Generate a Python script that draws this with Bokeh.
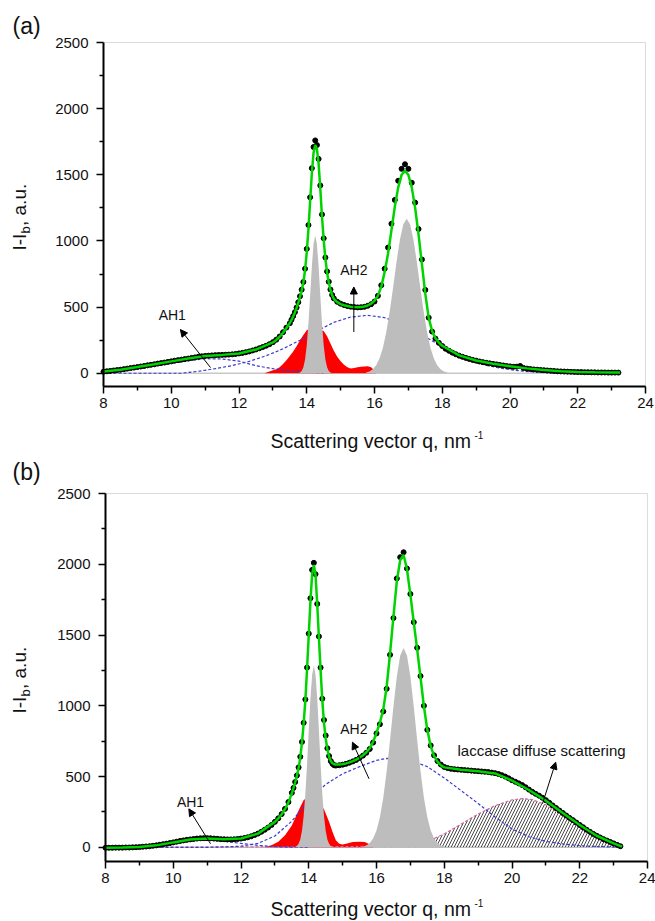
import numpy as np
from bokeh.plotting import figure
from bokeh.layouts import column
from bokeh.models import Range1d, Label, Arrow, NormalHead, FixedTicker, BoxAnnotation
from bokeh.embed import file_html
from bokeh.resources import INLINE

FONT = "Liberation Sans"

# ---------------- axis ticks ----------------
x_ticks = [8, 10, 12, 14, 16, 18, 20, 22, 24]
x_minor = [9, 11, 13, 15, 17, 19, 21, 23]
y_ticks = [0, 500, 1000, 1500, 2000, 2500]
y_minor = [250, 750, 1250, 1750, 2250]
X_LIM = (8, 24)
Y_LIM = (-100, 2500)


def grid(*segs):
    return np.round(np.concatenate([np.arange(a, b + 1e-6, s) for a, b, s in segs]), 2)


# sampling positions of the measured profiles and of the fitted envelopes
q_exp = grid((8.0, 13.5, 0.1), (13.55, 14.8, 0.05), (14.9, 23.2, 0.1))
q_fit = np.concatenate([grid((8.0, 13.0, 0.5), (13.1, 13.5, 0.1), (13.55, 14.8, 0.05),
                             (14.9, 18.0, 0.1), (18.5, 23.0, 0.5)), [23.25]])

# ---------------- panel (a) ----------------
i_exp_a = [
    12, 15, 18, 21, 24, 27, 31, 35, 39, 43,
    47, 51, 55, 60, 64, 68, 73, 77, 81, 86,
    90, 95, 99, 103, 107, 111, 116, 120, 125, 128,
    131, 133, 135, 137, 138, 139, 140, 141, 143, 146,
    150, 154, 159, 165, 172, 180, 189, 198, 208, 220,
    235, 254, 278, 310, 345, 378,
    405, 432, 462, 497, 537, 582, 632, 690, 790, 940,
    1120, 1330, 1550, 1710, 1760, 1725, 1620, 1420, 1200, 1020,
    875, 770, 692, 633, 592, 566,
    540, 526, 516, 508, 503, 500, 498, 499, 502, 510,
    522, 542, 585, 665, 790, 950, 1130, 1310, 1455, 1545,
    1580, 1545, 1440, 1290, 1090, 860, 630, 420, 315, 262,
    230, 206, 185, 170, 156, 144, 133, 124, 116, 108,
    101, 95, 89, 84, 79, 75, 71, 67, 63, 59,
    55, 52, 49, 50, 55, 40, 35, 32, 29, 27,
    25, 23, 21, 19, 17, 15, 14, 13, 12, 11,
    10, 9, 9, 8, 8, 7, 7, 6, 6, 6,
    5, 5, 5, 5,
]
i_fit_a = [
    13, 27, 47, 68, 90, 111, 130, 139, 149, 179, 233,
    252, 276, 306, 342, 380,
    403, 430, 460, 494, 533, 577, 626, 686, 780, 915,
    1090, 1300, 1510, 1665, 1725, 1695, 1585, 1395, 1185, 1008,
    866, 762, 686, 630, 590, 563,
    537, 523, 514, 508, 503, 500, 499, 500, 504, 512,
    526, 548, 585, 655, 765, 905, 1080, 1260, 1405, 1500,
    1530, 1500, 1405, 1250, 1050, 825, 600, 420, 320, 265,
    232, 208,
    135, 97, 72, 53, 37, 25, 16, 10, 7, 5,
    5,
]
# crystalline reflections (grey)
q_pk1_a = [13.75, 13.8, 13.85, 13.9, 13.95, 14.0, 14.05, 14.1, 14.15, 14.2, 14.25,
           14.3, 14.35, 14.4, 14.45, 14.5, 14.55, 14.6, 14.65, 14.7, 14.75]
i_pk1_a = [0, 6, 18, 46, 105, 212, 376, 587, 807, 977, 1042,
           977, 807, 587, 376, 212, 105, 46, 18, 6, 0]
q_pk2_a = [15.75, 15.85, 15.95, 16.05, 16.15, 16.25, 16.35, 16.45, 16.55, 16.65, 16.75, 16.85,
           16.95, 17.05, 17.15, 17.25, 17.35, 17.45, 17.55, 17.65, 17.75, 17.85, 17.95, 18.05, 18.15]
i_pk2_a = [6, 14, 30, 61, 113, 195, 314, 469, 651, 841, 1009, 1126,
           1168, 1126, 1009, 841, 651, 469, 314, 195, 113, 61, 30, 14, 6]
# red component
q_red_a = [12.75, 12.9, 13.0, 13.1, 13.2, 13.3, 13.4, 13.5, 13.6, 13.7, 13.8, 13.9, 14.0,
           14.1, 14.2, 14.3, 14.4, 14.5, 14.6, 14.7, 14.8, 14.9, 15.0, 15.1, 15.2, 15.3,
           15.4, 15.5, 15.6, 15.7, 15.8, 15.9, 16.0, 16.05]
i_red_a = [0, 14, 22, 30, 45, 70, 98, 130, 165, 205, 249, 290, 325,
           340, 340, 330, 325, 320, 280, 225, 170, 125, 90, 65, 45, 36,
           40, 46, 50, 52, 53, 45, 20, 0]
# amorphous halos (dashed)
q_ah1_a = [8.0, 8.5, 9.0, 9.5, 10.0, 10.5, 11.0, 11.5, 12.0, 12.5, 13.0, 13.5, 14.0, 14.5]
i_ah1_a = [10, 22, 38, 56, 76, 95, 110, 108, 92, 57, 35, 18, 8, 3]
q_ah2_a = [8.0, 10.3, 10.8, 11.3, 11.8, 12.3, 12.8, 13.3, 13.8, 14.3, 14.8, 15.3, 15.8,
           16.3, 16.8, 17.3, 17.8, 18.3, 18.8, 19.3, 19.8, 20.3, 20.8, 21.3, 21.8]
i_ah2_a = [0, 0, 15, 35, 58, 90, 132, 185, 250, 320, 385, 425, 438,
           420, 375, 305, 230, 145, 95, 60, 35, 18, 8, 3, 0]

# ---------------- panel (b) ----------------
i_exp_b = [
    -3, -3, -3, -2, -2, -2, -1, -1, 0, 1,
    2, 4, 6, 8, 11, 14, 18, 22, 26, 30,
    35, 40, 45, 49, 53, 56, 59, 62, 64, 65,
    65, 64, 62, 60, 58, 57, 56, 56, 57, 59,
    62, 66, 71, 78, 87, 97, 110, 124, 140, 158,
    180, 205, 235, 272, 320, 385,
    420, 462, 508, 565, 640, 745, 880, 1045, 1270, 1510,
    1760, 1960, 2010, 1930, 1720, 1490, 1270, 1050, 900, 790,
    700, 645, 610, 590, 580, 578,
    580, 584, 590, 598, 607, 618, 632, 648, 668, 695,
    740, 805, 870, 960, 1120, 1360, 1620, 1900, 2050, 2085,
    1970, 1790, 1591, 1410, 1210, 1000, 830, 720, 650, 610,
    585, 568, 560, 555, 552, 550, 548, 546, 544, 542,
    540, 538, 536, 534, 532, 528, 524, 518, 510, 500,
    488, 474, 463, 452, 440, 425, 408, 392, 378, 365,
    350, 333, 315, 296, 278, 260, 243, 225, 208, 192,
    175, 158, 142, 125, 110, 95, 82, 70, 58, 48,
    38, 28, 18, 8,
]
i_fit_b = [
    -2, -1, 3, 14, 35, 55, 63, 57, 62, 97, 180,
    204, 234, 271, 318, 380,
    420, 460, 505, 560, 635, 740, 875, 1040, 1260, 1500,
    1740, 1930, 1995, 1925, 1720, 1480, 1250, 1040, 880, 770,
    692, 640, 610, 594, 587, 585,
    585, 588, 593, 600, 609, 620, 634, 651, 672, 700,
    745, 810, 880, 975, 1135, 1370, 1630, 1880, 2030, 2065,
    1965, 1785, 1590, 1400, 1200, 995, 830, 715, 645, 605,
    580, 565,
    548, 538, 522, 472, 405, 330, 242, 158, 82, 28,
    5,
]
q_pk1_b = [13.6, 13.65, 13.7, 13.75, 13.8, 13.85, 13.9, 13.95, 14.0, 14.05, 14.1, 14.15,
           14.2, 14.25, 14.3, 14.35, 14.4, 14.45, 14.5, 14.55, 14.6, 14.65, 14.7]
i_pk1_b = [3, 10, 25, 56, 117, 221, 378, 586, 825, 1054, 1220, 1281,
           1220, 1054, 825, 586, 378, 221, 117, 56, 25, 10, 3]
q_pk2_b = [15.6, 15.7, 15.8, 15.9, 16.0, 16.1, 16.2, 16.3, 16.4, 16.5, 16.6, 16.7, 16.8,
           16.9, 17.0, 17.1, 17.2, 17.3, 17.4, 17.5, 17.6, 17.7, 17.8, 17.9, 18.0]
i_pk2_b = [5, 13, 30, 62, 119, 213, 351, 537, 760, 995, 1207, 1355, 1408,
           1355, 1207, 995, 760, 537, 351, 213, 119, 62, 30, 13, 5]
q_red_b = [12.7, 12.9, 13.1, 13.3, 13.5, 13.7, 13.85, 14.0, 14.15, 14.3, 14.45, 14.6,
           14.7, 14.8, 14.9, 15.0, 15.1, 15.3, 15.5, 15.65, 15.8, 15.9]
i_red_b = [0, 15, 40, 85, 155, 260, 335, 355, 345, 315, 270, 180,
           110, 50, 25, 20, 25, 38, 40, 37, 22, 0]
q_ah1_b = [8.0, 9.0, 9.5, 10.0, 10.5, 10.8, 11.2, 11.6, 12.0, 12.5, 13.0, 13.5, 14.0]
i_ah1_b = [0, 0, 8, 25, 45, 52, 50, 40, 28, 14, 5, 1, 0]
q_ah2_b = [8.0, 11.0, 11.5, 12.0, 12.5, 13.0, 13.5, 14.0, 14.5, 15.0, 15.5, 16.0, 16.3,
           16.6, 17.0, 17.5, 18.0, 18.5, 19.0, 19.5, 20.0, 20.5, 21.0, 21.5, 22.0,
           22.5, 23.0, 23.25]
i_ah2_b = [0, 0, 3, 8, 28, 80, 185, 330, 445, 520, 570, 615, 628,
           625, 615, 570, 490, 400, 310, 215, 130, 75, 42, 24, 12,
           6, 2, 1]
# laccase diffuse scattering (hatched)
q_lac_b = [8.0, 10.0, 12.0, 14.0, 15.0, 16.0, 16.5, 17.0, 17.5, 18.0, 18.5, 19.0,
           19.5, 20.0, 20.3, 20.6, 21.0, 21.5, 22.0, 22.5, 23.0, 23.25]
i_lac_b = [2, 2, 3, 4, 5, 8, 12, 20, 40, 95, 165, 235,
           295, 335, 345, 337, 300, 225, 140, 65, 20, 5]

q_base = [8.0, 23.25]
i_base = [0, 0]

assert len(q_exp) == len(i_exp_a) == len(i_exp_b)
assert len(q_fit) == len(i_fit_a) == len(i_fit_b)

GREEN = "#00d400"
GREY = "#bdbdbd"
RED = "#ff0000"
BLUE = "#3a3ad0"
PINK = "#d66aa2"
INK = "#111111"
BASELINE_SHIFT = 0.36   # em; lifts an "alphabetic" label onto the intended baseline


class Panel:
    """A figure whose plotting box spans the whole canvas; the axes are pinned
    at the lower/left edges of the data box so that titles can live around it."""

    def __init__(self, width, height, box):
        left, right, top, bottom = box
        self.sx = (right - left) / (X_LIM[1] - X_LIM[0])
        self.sy = (bottom - top) / (Y_LIM[1] - Y_LIM[0])
        self.left, self.top = left, top
        x0 = X_LIM[0] - left / self.sx
        x1 = X_LIM[1] + (width - right) / self.sx
        y0 = Y_LIM[0] - (height - bottom) / self.sy
        y1 = Y_LIM[1] + top / self.sy
        p = figure(width=width, height=height, output_backend="svg", toolbar_location=None,
                   x_range=Range1d(x0, x1), y_range=Range1d(y0, y1),
                   min_border=0)
        p.grid.visible = False
        p.outline_line_color = None
        p.background_fill_color = "white"
        p.border_fill_color = "white"
        p.add_layout(BoxAnnotation(left=X_LIM[0], right=X_LIM[1], bottom=Y_LIM[0], top=Y_LIM[1],
                                   fill_alpha=0, line_color="#8c8c8c", line_width=1,
                                   level="underlay"))
        p.xaxis.fixed_location = Y_LIM[0]
        p.yaxis.fixed_location = X_LIM[0]
        p.xaxis.bounds = X_LIM
        p.yaxis.bounds = Y_LIM
        p.xaxis.ticker = FixedTicker(ticks=x_ticks, minor_ticks=x_minor)
        p.yaxis.ticker = FixedTicker(ticks=y_ticks, minor_ticks=y_minor)
        for ax in (p.xaxis[0], p.yaxis[0]):
            ax.axis_line_width = 2
            ax.axis_line_color = "black"
            ax.major_tick_line_width = 1.5
            ax.minor_tick_line_width = 1.5
            ax.major_tick_line_color = "black"
            ax.minor_tick_line_color = "black"
            ax.major_tick_in = 0
            ax.major_tick_out = 7
            ax.minor_tick_in = 0
            ax.minor_tick_out = 4
            ax.major_label_text_font = FONT
            ax.major_label_text_font_size = "15px"
            ax.major_label_text_color = INK
        p.yaxis.major_label_standoff = 8
        p.xaxis.major_label_standoff = 4
        self.p = p

    def to_data(self, x, y):
        return (X_LIM[0] + (x - self.left) / self.sx,
                Y_LIM[1] - (y - self.top) / self.sy)

    def to_px(self, q, v):
        return (self.left + (q - X_LIM[0]) * self.sx,
                self.top + (Y_LIM[1] - v) * self.sy)

    def text(self, x, y, text, size, align="left", angle=0.0, pixels=False):
        if not pixels:
            x, y = self.to_px(x, y)
        lift = BASELINE_SHIFT * float(size.rstrip("px"))
        if angle:
            x -= lift
        else:
            y -= lift
        x, y = self.to_data(x, y)
        self.p.add_layout(Label(x=x, y=y, text=text, text_font=FONT, text_font_size=size,
                                text_align=align, text_baseline="alphabetic", angle=angle,
                                text_color=INK))

    def arrow(self, x0, y0, x1, y1):
        self.p.add_layout(Arrow(end=NormalHead(size=7, fill_color="black", line_color="black",
                                               line_width=1),
                                x_start=x0, y_start=y0, x_end=x1, y_end=y1,
                                line_color="black", line_width=1))

    def draw(self, i_exp, i_fit, peaks, red, halos, lac=None):
        p = self.p
        p.line(q_base, i_base, color="#c8c8c8", line_width=1.5)
        p.varea(x=red[0], y1=0, y2=red[1], fill_color=RED)
        if lac is not None:
            p.varea(x=lac[0], y1=0, y2=lac[1], fill_color=None,
                    hatch_pattern="/", hatch_color="#333333", hatch_scale=6, hatch_weight=0.9)
            p.line(lac[0], lac[1], color=PINK, line_width=1.2, line_dash="3 2")
        for hq, hv in halos:
            p.line(hq, hv, color=BLUE, line_width=1.2, line_dash="3 2")
        for pq, pv in peaks:
            p.varea(x=pq, y1=0, y2=pv, fill_color=GREY)
        p.scatter(q_exp, i_exp, size=5, color="black")
        p.line(q_fit, i_fit, color=GREEN, line_width=2.5)

    def titles(self, tag, xlab_px, sup_px, ylab_px):
        self.text(12, tag[1], tag[0], "23px", pixels=True)
        self.text(*xlab_px, "Scattering vector q, nm", "19.5px", pixels=True)
        self.text(*sup_px, "-1", "10px", pixels=True)
        x, y = ylab_px
        self.text(x, y, "I-I", "19px", angle=np.pi / 2, pixels=True)
        self.text(x + 4, y - 17, "b", "13px", angle=np.pi / 2, pixels=True)
        self.text(x, y - 24.5, ", a.u.", "19px", angle=np.pi / 2, pixels=True)


# ---------------- panel (a) ----------------
A = Panel(655, 460, (103, 645, 42, 386))
A.draw(i_exp_a, i_fit_a, [(q_pk1_a, i_pk1_a), (q_pk2_a, i_pk2_a)], (q_red_a, i_red_a),
       [(q_ah1_a, i_ah1_a), (q_ah2_a, i_ah2_a)])
A.titles(("(a)", 34), (270, 448), (474, 438), (26, 250))
A.text(10.03, 400, "AH1", "14px", align="center")
A.arrow(11.16, 43, 10.27, 330)
A.text(15.39, 740, "AH2", "14px", align="center")
A.arrow(15.39, 312, 15.39, 652)

# ---------------- panel (b) ----------------
B = Panel(655, 461, (105, 647, 33, 401))
B.draw(i_exp_b, i_fit_b, [(q_pk1_b, i_pk1_b), (q_pk2_b, i_pk2_b)], (q_red_b, i_red_b),
       [(q_ah1_b, i_ah1_b), (q_ah2_b, i_ah2_b)], lac=(q_lac_b, i_lac_b))
B.titles(("(b)", 20), (270, 456), (474, 446), (26, 253))
B.text(10.51, 284, "AH1", "14px", align="center")
B.arrow(11.10, 25, 10.46, 272)
B.text(15.33, 802, "AH2", "14px", align="center")
B.arrow(15.78, 484, 15.29, 743)
B.text(18.39, 649, "laccase diffuse scattering", "15px")
B.arrow(20.9, 308, 21.29, 602)

layout = column(A.p, B.p, spacing=0)
open("out.html", "w").write(file_html(layout, INLINE))
